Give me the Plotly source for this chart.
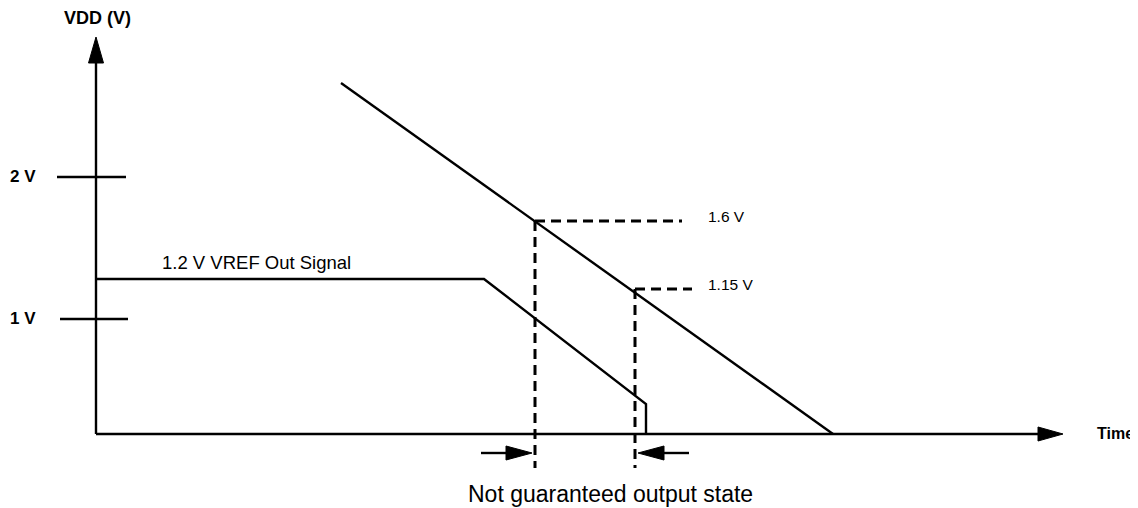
import plotly.graph_objects as go

# schematic diagram, coordinates in drawing units (x = time to the right, y = downward)
origin_t = 96
base_y = 434
x_axis_end = 1063
y_axis_top = 37

vdd_t = [341, 833]
vdd_y = [83, 434]

vref_t = [96, 484, 646, 646]
vref_y = [279, 279, 404, 434]
vref_label = "1.2 V VREF Out Signal"

tick_labels = ["2 V", "1 V"]
tick_y = [177, 319]
tick_left = [57, 60]
tick_right = [126, 128]

thresh_labels = ["1.6 V", "1.15 V"]
thresh_t = [535, 635]
thresh_y = [221, 289]
thresh_end = [682, 692]
dash_bottom = 468

window_arrow_y = 453
window_from = [481, 689]
window_to = [532, 638]
window_label = "Not guaranteed output state"

FONT = "Liberation Sans, Arial, sans-serif"
LW = 2.4
PAGE_MARGIN = 8  # the html body keeps an 8px margin around the plot div


def head(tip_x, tip_y, dx, dy, length=25, half=7.5):
    # filled triangle pointing along (dx, dy)
    bx, by = tip_x - dx * length, tip_y - dy * length
    px, py = -dy * half, dx * half
    return [tip_x, bx + px, bx - px, tip_x], [tip_y, by + py, by - py, tip_y]


def line(xs, ys, dash="solid", width=LW):
    return go.Scatter(x=xs, y=ys, mode="lines", hoverinfo="skip",
                      line=dict(color="black", width=width, dash=dash))


def tri(xs, ys):
    return go.Scatter(x=xs, y=ys, mode="lines", fill="toself", fillcolor="black",
                      hoverinfo="skip", line=dict(color="black", width=1))


fig = go.Figure()

# axes
fig.add_trace(line([origin_t, origin_t], [base_y, y_axis_top + 20]))
fig.add_trace(tri(*head(origin_t, y_axis_top, 0, -1, 26, 7.5)))
fig.add_trace(line([origin_t, x_axis_end - 20], [base_y, base_y]))
fig.add_trace(tri(*head(x_axis_end, base_y, 1, 0, 25, 7)))

# voltage ticks
for y, x0, x1 in zip(tick_y, tick_left, tick_right):
    fig.add_trace(line([x0, x1], [y, y]))

# signals
fig.add_trace(line(vdd_t, vdd_y))
fig.add_trace(line(vref_t, vref_y))

# threshold markers
for t, y, x1 in zip(thresh_t, thresh_y, thresh_end):
    fig.add_trace(line([t, x1], [y, y], dash="10px,6px", width=3))
    fig.add_trace(line([t, t], [y, dash_bottom], dash="10px,6px", width=3))

# window arrows
for x0, x1 in zip(window_from, window_to):
    d = 1 if x1 > x0 else -1
    fig.add_trace(line([x0, x1 - d * 20], [window_arrow_y, window_arrow_y]))
    fig.add_trace(tri(*head(x1, window_arrow_y, d, 0, 26, 7)))

annotations = [
    dict(x=origin_t + 1, y=18, text="<b>VDD (V)</b>", xanchor="center", font_size=18),
    dict(x=1095, y=433, text="<b>Time</b>", xanchor="left", font_size=16),
    dict(x=160, y=262, text=vref_label, xanchor="left", font_size=18.5),
    dict(x=610, y=494, text=window_label, xanchor="center", font_size=23),
]
for lab, y in zip(tick_labels, tick_y):
    annotations.append(dict(x=38, y=y - 1, text="<b>%s</b>" % lab, xanchor="right", font_size=17))
for lab, y in zip(thresh_labels, thresh_y):
    annotations.append(dict(x=706, y=y - 5, text=lab, xanchor="left", font_size=15.5))

for a in annotations:
    a.update(xref="x", yref="y", showarrow=False, yanchor="middle",
             font=dict(family=FONT, color="black", size=a.pop("font_size")))

fig.update_layout(
    width=1138 - PAGE_MARGIN, height=508 - PAGE_MARGIN,
    margin=dict(l=0, r=0, t=0, b=0),
    paper_bgcolor="white", plot_bgcolor="white",
    showlegend=False,
    xaxis=dict(range=[PAGE_MARGIN, 1138], visible=False, fixedrange=True),
    yaxis=dict(range=[508, PAGE_MARGIN], visible=False, fixedrange=True),
    annotations=annotations,
)

fig.write_html("out.html")
